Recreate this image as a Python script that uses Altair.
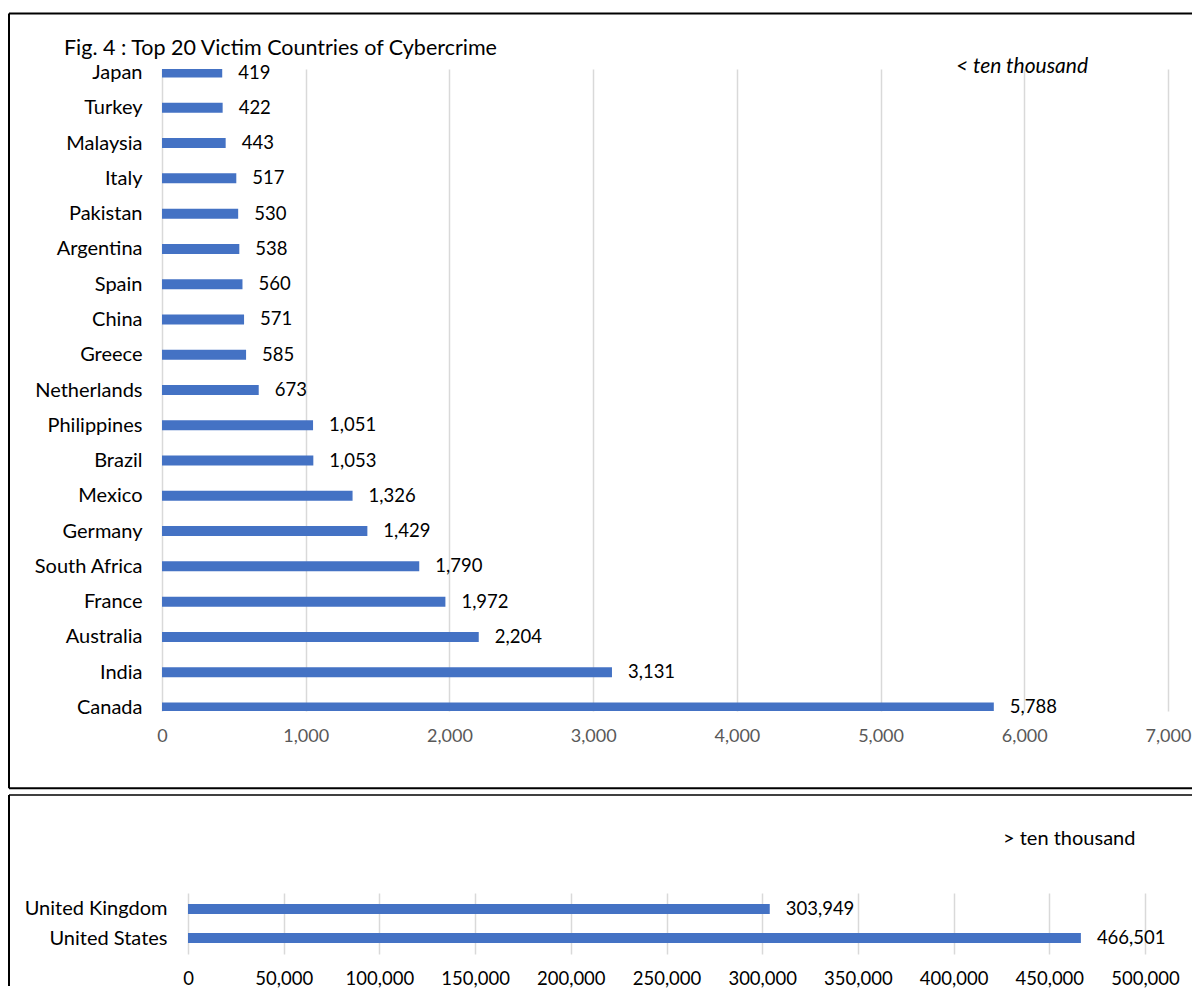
import altair as alt
import pandas as pd

# ---------------- data ----------------
countries_low = ["Japan", "Turkey", "Malaysia", "Italy", "Pakistan", "Argentina", "Spain",
                 "China", "Greece", "Netherlands", "Philippines", "Brazil", "Mexico",
                 "Germany", "South Africa", "France", "Australia", "India", "Canada"]
victims_low = [419, 422, 443, 517, 530, 538, 560, 571, 585, 673, 1051, 1053, 1326,
               1429, 1790, 1972, 2204, 3131, 5788]
ticks_low = [0, 1000, 2000, 3000, 4000, 5000, 6000, 7000]

countries_high = ["United Kingdom", "United States"]
victims_high = [303949, 466501]
ticks_high = [0, 50000, 100000, 150000, 200000, 250000, 300000, 350000, 400000, 450000, 500000]

title_text = "Fig. 4 : Top 20 Victim Countries of Cybercrime"
note_low = "< ten thousand"
note_high = "> ten thousand"

FONT = "Lato"
BAR = "#4472C4"
GRID = "#d9d9d9"
TICK = "#595959"
RIGHT = 1030  # right end of the panel frame lines (relative to plot left)

one = pd.DataFrame({"k": [0]})


def frame_rule(x, x2=None, y=None, y2=None, w=2):
    enc = {"x": alt.value(x), "y": alt.value(y)}
    if x2 is not None:
        enc["x2"] = alt.value(x2)
    if y2 is not None:
        enc["y2"] = alt.value(y2)
    return alt.Chart(one).mark_rule(color="black", strokeWidth=w).encode(**enc)


# ---------------- top panel ----------------
df1 = pd.DataFrame({"country": countries_low, "victims": victims_low})
W1, H1 = 1006, 642

x1 = alt.X("victims:Q",
           scale=alt.Scale(domain=[0, 7000], nice=False, zero=True),
           axis=alt.Axis(values=ticks_low, format=",.0f", title=None, domain=False, ticks=False,
                         labelPadding=16, labelFlush=False, labelOverlap=False,
                         grid=True, gridColor=GRID, gridWidth=1.5,
                         labelColor=TICK, labelFont=FONT, labelFontSize=18))
y1 = alt.Y("country:N", sort=countries_low,
           scale=alt.Scale(type="point", padding=0.1),
           axis=alt.Axis(title=None, domain=False, ticks=False, labelPadding=20,
                         labelFont=FONT, labelFontSize=20, labelColor="black"))

bars1 = alt.Chart(df1).mark_bar(color=BAR, size=10, clip=True).encode(x=x1, y=y1)
vals1 = alt.Chart(df1).mark_text(align="left", baseline="middle", dx=16, font=FONT,
                                 fontSize=18.5, color="black").encode(
    x="victims:Q", y=alt.Y("country:N", sort=countries_low),
    text=alt.Text("victims:Q", format=",.0f"))
title1 = alt.Chart(pd.DataFrame({"t": [title_text]})).mark_text(
    align="left", baseline="alphabetic", font=FONT, fontSize=21.5, color="black").encode(
    x=alt.value(-98), y=alt.value(-14.5), text="t:N")
note1 = alt.Chart(pd.DataFrame({"t": [note_low]})).mark_text(
    align="left", baseline="middle", font=FONT, fontSize=21, fontStyle="italic",
    color="black").encode(x=alt.value(794), y=alt.value(-1.8), text="t:N")

top = alt.layer(
    bars1, vals1, title1, note1,
    frame_rule(-153, x2=RIGHT, y=-55.5),
    frame_rule(-153, y=-55.5, y2=719.2),
    frame_rule(-153, x2=RIGHT, y=719.2),
).properties(width=W1, height=H1)

# ---------------- bottom panel ----------------
# plot area shares the top panel's left edge; the axis itself starts 26px further right
df2 = pd.DataFrame({"country": countries_high, "victims": victims_high})
W2, H2 = 983, 61
SHIFT = 26

x2 = alt.X("victims:Q",
           scale=alt.Scale(domain=[0, 500000], nice=False, zero=True, range=[SHIFT, W2]),
           axis=alt.Axis(values=ticks_high, format=",.0f", title=None, domain=False, ticks=False,
                         labelPadding=15, labelFlush=False, labelOverlap=False,
                         grid=True, gridColor=GRID, gridWidth=1.5,
                         labelColor="black", labelFont=FONT, labelFontSize=18.5))
y2 = alt.Y("country:N", sort=countries_high,
           scale=alt.Scale(type="point", padding=0.55),
           axis=alt.Axis(title=None, domain=False, ticks=False, labelPadding=21,
                         offset=-SHIFT,
                         labelFont=FONT, labelFontSize=20, labelColor="black"))

bars2 = alt.Chart(df2).mark_bar(color=BAR, size=10).encode(x=x2, y=y2)
vals2 = alt.Chart(df2).mark_text(align="left", baseline="middle", dx=16, font=FONT,
                                 fontSize=18.5, color="black").encode(
    x="victims:Q", y=alt.Y("country:N", sort=countries_high),
    text=alt.Text("victims:Q", format=",.0f"))
note2 = alt.Chart(pd.DataFrame({"t": [note_high]})).mark_text(
    align="left", baseline="middle", font=FONT, fontSize=20, color="black").encode(
    x=alt.value(841), y=alt.value(-54), text="t:N")

bottom = alt.layer(
    bars2, vals2, note2,
    frame_rule(-153, x2=RIGHT, y=-98, w=1.5),
    frame_rule(-153, y=-98, y2=93, w=2),
).properties(width=W2, height=H2)

chart = alt.vconcat(top, bottom, spacing=4).properties(
    padding={"left": 0, "top": 4, "right": 0, "bottom": 0},
    background="white",
).configure_view(stroke=None)

chart.save("out.html", embed_options={"renderer": "svg", "actions": False})
